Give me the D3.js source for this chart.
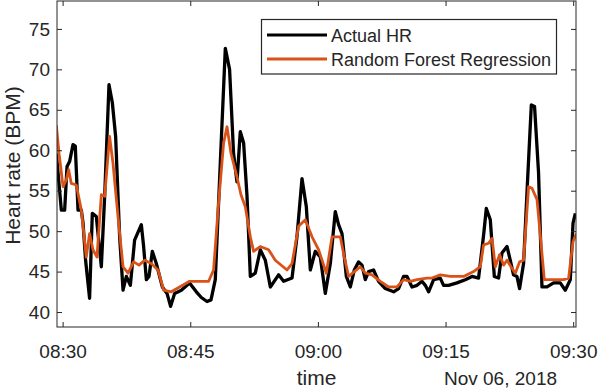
<!DOCTYPE html>
<html>
<head>
<meta charset="utf-8">
<script src="https://cdn.jsdelivr.net/npm/d3@7"></script>
<style>
  body { margin: 0; background: #fff; }
  svg { display: block; font-family: "Liberation Sans", Arial, sans-serif; }
</style>
</head>
<body>
<div id="chart"></div>
<script>
// Chart size and plot box
const width = 598;
const height = 390;
const margin = {left: 57, right: 22, top: 1, bottom: 63};

// Minutes after 08:30 (Nov 06, 2018) and heart rate values
const actualMinutes = [-0.74, -0.15, 0.24, 0.52, 0.82, 1.22, 1.49, 1.81, 2.2, 2.4, 2.7, 3.17, 3.49, 3.96, 4.55, 4.94,
  5.45, 5.84, 6.23, 6.7, 7.1, 7.49, 7.96, 8.46, 9.25, 9.52, 9.84, 10.15, 10.54, 11.01, 11.72, 12.27, 12.69, 13.16,
  13.95, 14.92, 15.71, 16.3, 16.97, 17.44, 17.94, 18.53, 19.12, 19.62, 20.09, 20.49, 20.88, 21.27, 21.67, 22.06,
  22.64, 23.23, 23.82, 24.41, 25.38, 25.97, 26.96, 27.54, 28.13, 28.64, 29.11, 29.69, 30.28, 30.87, 31.46, 32.04,
  32.43, 32.83, 33.34, 33.81, 34.28, 34.78, 35.18, 35.57, 35.96, 36.54, 37.13, 37.92, 38.9, 39.48, 40.07, 40.47,
  41.06, 41.65, 42.23, 42.62, 43.01, 43.6, 44.38, 44.77, 45.36, 46.34, 47.32, 48.11, 48.88, 49.47, 49.79, 50.26,
  50.73, 51.23, 51.63, 52.22, 52.61, 52.99, 53.39, 53.7, 54.17, 54.64, 55.08, 55.46, 55.93, 56.33, 56.92, 57.7,
  58.48, 59.07, 59.66, 59.98, 60.25];
const actualHR = [59.6, 52.6, 52.6, 58.0, 58.6, 60.7, 60.5, 52.6, 52.6, 51.0, 46.4, 41.7, 52.2, 51.8, 45.6, 54.3,
  68.1, 65.9, 61.7, 49.3, 42.7, 44.4, 43.3, 48.9, 50.8, 48.1, 44.0, 44.4, 47.5, 46.0, 43.1, 42.3, 40.7, 42.3,
  42.7, 43.6, 42.5, 41.8, 41.3, 41.5, 44.0, 58.4, 72.6, 70.0, 59.6, 56.1, 62.3, 60.9, 54.3, 44.4,
  44.8, 47.7, 46.4, 43.1, 44.6, 43.8, 44.2, 49.3, 56.5, 53.0, 45.2, 47.5, 46.8, 42.3, 46.0, 52.4,
  50.8, 49.7, 44.4, 43.1, 45.2, 46.2, 45.8, 44.0, 45.0, 45.2, 43.8, 42.9, 42.5, 42.9, 44.4, 44.4,
  43.1, 43.3, 43.8, 43.3, 42.5, 44.0, 44.2, 43.3, 43.3, 43.6, 44.0, 44.4, 44.2, 49.5, 52.8, 51.4,
  44.4, 44.2, 47.3, 48.1, 46.4, 44.6, 44.4, 42.9, 46.0, 56.3, 65.6, 65.4, 57.2, 43.1, 43.1, 43.6,
  43.6, 42.7, 44.0, 51.0, 52.2];

const rfMinutes = [-0.74, -0.42, 0.05, 0.43, 0.71, 1.02, 1.61, 2.2, 2.78, 3.17, 3.57, 4.04, 4.55, 4.94, 5.52, 5.92,
  6.51, 7.1, 7.69, 8.34, 8.98, 9.64, 10.42, 11.21, 11.87, 12.77, 13.75, 14.92, 16.1, 17.16, 17.74, 18.33, 18.92,
  19.32, 19.79, 20.49, 20.96, 21.47, 22.06, 22.44, 23.23, 24.21, 24.99, 26.37, 26.96, 27.73, 28.52, 29.31, 30.08,
  30.99, 31.66, 32.04, 32.63, 33.1, 33.61, 34.28, 34.98, 35.57, 36.36, 37.33, 38.31, 39.29, 40.07, 40.86, 41.65,
  42.82, 43.41, 44.38, 45.56, 47.12, 48.3, 49.08, 49.47, 50.06, 50.46, 50.85, 51.35, 51.82, 52.22, 52.69, 53.2,
  53.7, 54.17, 54.76, 55.16, 55.75, 56.61, 57.7, 58.87, 59.46, 59.98, 60.37];
const rfHR = [63.1, 59.6, 55.5, 56.3, 57.6, 55.9, 55.7, 52.6, 46.8, 49.7, 47.7, 46.8, 54.5, 54.3, 61.7, 58.4,
  51.8, 45.6, 44.8, 46.2, 45.8, 46.4, 46.0, 45.2, 42.7, 42.5, 43.1, 43.8, 43.8, 43.8, 45.2, 53.5, 60.9,
  62.9, 59.6, 56.7, 54.5, 53.0, 49.3, 47.5, 48.1, 47.7, 46.4, 45.2, 46.0, 50.6, 51.4, 49.3, 47.7,
  44.8, 49.3, 49.3, 49.3, 46.8, 44.4, 45.0, 45.6, 44.8, 44.6, 43.8, 43.1, 43.1, 44.0, 43.8, 44.0,
  44.2, 44.2, 44.6, 44.4, 44.4, 45.0, 45.6, 48.3, 48.5, 49.1, 45.6, 47.1, 45.8, 46.4, 45.6, 44.8,
  46.2, 46.4, 55.5, 55.3, 53.9, 44.0, 44.0, 44.0, 44.2, 48.7, 49.7];

// Tick labels
const yTicks = [40, 45, 50, 55, 60, 65, 70, 75];
const xTickLabels = ["08:30", "08:45", "09:00", "09:15", "09:30"];
const seriesNames = ["Actual HR", "Random Forest Regression"];
const seriesColors = ["#000000", "#D95319"];

const start = new Date(2018, 10, 6, 8, 30);
const toDate = m => new Date(start.getTime() + m * 60000);
const parseTick = d3.timeParse("%Y-%m-%d %H:%M");

const actualData = actualMinutes.map((m, i) => ({t: toDate(m), v: actualHR[i]}));
const rfData = rfMinutes.map((m, i) => ({t: toDate(m), v: rfHR[i]}));

const svg = d3.select("#chart")
  .append("svg")
  .attr("width", width)
  .attr("height", height);

const textColor = "#262626";

// Set x scale (time)
const xScale = d3.scaleTime()
  .domain([toDate(-0.66), toDate(60.33)])
  .range([margin.left, width - margin.right]);

// Set y scale
const yScale = d3.scaleLinear()
  .domain([38.15, 78.45])
  .range([height - margin.bottom, margin.top]);

const xTickDates = xTickLabels.map(s => parseTick("2018-11-06 " + s));

// Clip lines to the plot box
svg.append("clipPath")
  .attr("id", "plot-clip")
  .append("rect")
    .attr("x", margin.left)
    .attr("y", margin.top)
    .attr("width", width - margin.left - margin.right)
    .attr("height", height - margin.top - margin.bottom);

/*
  Lines
*/
const line = d3.line()
  .x(d => xScale(d.t))
  .y(d => yScale(d.v));

const lines = svg.append("g").attr("clip-path", "url(#plot-clip)");

lines.append("path")
  .datum(actualData)
  .attr("fill", "none")
  .attr("stroke", seriesColors[0])
  .attr("stroke-width", 3.3)
  .attr("stroke-linejoin", "round")
  .attr("d", line);

lines.append("path")
  .datum(rfData)
  .attr("fill", "none")
  .attr("stroke", seriesColors[1])
  .attr("stroke-width", 2.8)
  .attr("stroke-linejoin", "round")
  .attr("d", line);

/*
  Axes (ticks point inward, box on)
*/
const bottom = height - margin.bottom;
const right = width - margin.right;

const xAxis = svg.append("g")
  .attr("transform", `translate(0,${bottom})`)
  .call(d3.axisBottom(xScale)
    .tickValues(xTickDates)
    .tickFormat(d3.timeFormat("%H:%M"))
    .tickSizeInner(-5)
    .tickSizeOuter(0)
    .tickPadding(18));

const yAxis = svg.append("g")
  .attr("transform", `translate(${margin.left},0)`)
  .call(d3.axisLeft(yScale)
    .tickValues(yTicks)
    .tickSizeInner(-5)
    .tickSizeOuter(0)
    .tickPadding(7));

svg.append("g")
  .attr("transform", `translate(0,${margin.top})`)
  .call(d3.axisTop(xScale).tickValues(xTickDates).tickFormat("").tickSizeInner(-5).tickSizeOuter(0));

svg.append("g")
  .attr("transform", `translate(${right},0)`)
  .call(d3.axisRight(yScale).tickValues(yTicks).tickFormat("").tickSizeInner(-5).tickSizeOuter(0));

svg.selectAll(".domain").remove();
svg.selectAll(".tick line").attr("stroke", textColor);
svg.selectAll(".tick text")
  .attr("fill", textColor)
  .attr("font-size", "19px")
  .attr("font-family", "Liberation Sans, Arial, sans-serif");

// Plot box
svg.append("rect")
  .attr("x", margin.left)
  .attr("y", margin.top)
  .attr("width", right - margin.left)
  .attr("height", bottom - margin.top)
  .attr("fill", "none")
  .attr("stroke", textColor)
  .attr("stroke-width", 1);

// Axis labels
svg.append("text")
  .attr("x", (margin.left + right) / 2)
  .attr("y", 385)
  .attr("text-anchor", "middle")
  .attr("font-size", "21px")
  .attr("fill", textColor)
  .text("time");

svg.append("text")
  .attr("x", 500.5)
  .attr("y", 385)
  .attr("text-anchor", "middle")
  .attr("font-size", "19px")
  .attr("fill", textColor)
  .text("Nov 06, 2018");

svg.append("text")
  .attr("transform", "translate(19.5,165.5) rotate(-90)")
  .attr("text-anchor", "middle")
  .attr("font-size", "21px")
  .attr("fill", textColor)
  .text("Heart rate (BPM)");

/*
  Legend
*/
const legend = svg.append("g");

legend.append("rect")
  .attr("x", 261.5)
  .attr("y", 19.5)
  .attr("width", 295)
  .attr("height", 54.5)
  .attr("fill", "#fff")
  .attr("stroke", textColor)
  .attr("stroke-width", 1.2);

const legendRows = legend.selectAll(".legend-row")
  .data(seriesNames)
  .enter()
  .append("g")
    .attr("class", "legend-row")
    .attr("transform", (d, i) => `translate(0,${35 + i * 24})`);

legendRows.append("line")
  .attr("x1", 267)
  .attr("x2", 327)
  .attr("stroke", (d, i) => seriesColors[i])
  .attr("stroke-width", 3);

legendRows.append("text")
  .attr("x", 331)
  .attr("y", 6.5)
  .attr("font-size", "18px")
  .attr("fill", textColor)
  .text(d => d);
</script>
</body>
</html>
